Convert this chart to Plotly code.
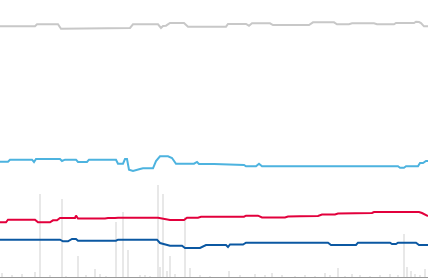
import plotly.graph_objects as go

# --- data (values in chart units; index runs along the time axis) ---
gray_x = [0,35,37,58,61,115,118,130,133,158,161,163,166,170,184,188,226,228,246,249,252,270,273,309,313,334,337,349,352,374,377,394,396,414,416,419,421,424,428]
gray_y = [250.7,250.7,252.7,252.7,248.3,248.3,249,249,252.7,252.7,249,251,251.3,254,254,250.3,250.3,253,253,251.3,253.7,253.7,252,252,254.7,254.7,252.7,252.7,253.7,253.7,252.7,252.7,254,254,255.3,255,254,250.7,250.7]

lblue_x = [0,8,10,32,34,36,60,62,65,76,78,87,89,116,118,123,125,127,129,133,140,143,153,156,160,168,172,176,194,197,199,214,244,246,256,259,262,398,400,404,406,418,420,423,426,428]
lblue_y = [115.3,115.3,117.3,117.3,115,118,118,116,117.3,117.3,115,115,117.3,117.3,113.3,113.3,118,118,107.3,106,108,108.7,108.7,116,120.7,120.7,119,113.3,113.3,115,113,113,112,110.7,110.7,113.3,110.7,110.7,109.3,109.3,110.7,110.7,114,114,116,116]

red_x = [0,6,8,35,38,50,53,57,60,75,76,78,105,108,115,118,158,162,170,184,187,198,201,244,246,258,262,285,288,300,318,322,335,338,352,356,372,374,378,380,390,393,419,422,426,428]
red_y = [54.7,54.7,57.3,57.3,54.7,54.7,56.7,56.7,59,59,61.3,58.5,58.5,59,59,59.3,59.3,58.3,57,57,59.3,59.3,60.3,60.3,61.3,61.3,59.5,59.5,60.5,60.7,61,62.5,62.5,63.5,63.5,64,64,65,65,64.3,64.3,65,65,64,62.5,61]

dblue_x = [0,60,63,68,72,76,78,116,118,157,160,163,170,182,185,200,204,206,226,228,230,243,246,328,331,356,358,390,392,396,398,416,419,428]
dblue_y = [37.3,37.3,35.7,35.7,38,38,36.3,36.3,37.3,37.3,34,33,31.3,31.3,29,29,31,32,32,30,32.5,32.5,34.3,34.3,32,32,34.3,34.3,33,33,34.3,34.3,32,32]

vol_x = [2,12,22,35,40,50,62,66,78,86,95,100,106,116,123,128,140,145,150,158,160,163,167,170,175,185,190,200,210,229,240,255,265,272,282,295,305,315,325,330,338,345,352,360,370,380,390,398,404,407,411,415,420,425]
vol_y = [4,2,3,5,83,2,78,1,21,2,8,3,1,55,65,27,2,2,1,92,10,83,6,21,3,60,9,2,1,6,2,3,2,4,2,1,2,1,4,2,9,1,3,2,1,2,3,2,43,10,6,3,2,8]

fig = go.Figure()
line_specs = [
    (gray_x, gray_y, "#c8c8c8"),
    (lblue_x, lblue_y, "#4db3df"),
    (red_x, red_y, "#e2003c"),
    (dblue_x, dblue_y, "#0b58a2"),
]
for xs, ys, col in line_specs:
    fig.add_trace(go.Scatter(x=xs, y=ys, mode="lines",
                             line=dict(color=col, width=2),
                             hoverinfo="skip", showlegend=False))

fig.add_trace(go.Bar(x=vol_x, y=vol_y, width=2,
                     marker=dict(color="rgba(190,190,190,0.35)", line=dict(width=0)),
                     hoverinfo="skip", showlegend=False))

fig.update_layout(
    width=428, height=278,
    margin=dict(l=0, r=0, t=0, b=1),
    paper_bgcolor="white", plot_bgcolor="white",
    bargap=0,
    xaxis=dict(range=[0, 428], visible=True, showgrid=False, zeroline=False,
               showticklabels=False, ticks="", showline=True,
               linecolor="#9a9a9a", linewidth=1, fixedrange=True),
    yaxis=dict(range=[0, 277], visible=False, fixedrange=True),
)

fig.write_html("out.html", config={"displayModeBar": False})
